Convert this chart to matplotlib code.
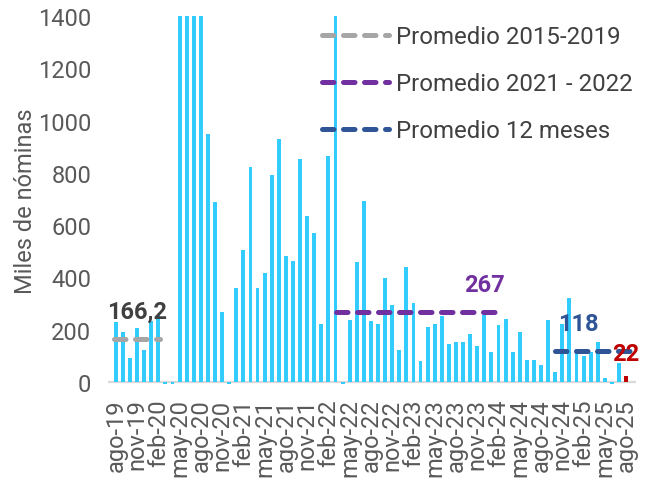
import matplotlib
matplotlib.use("Agg")
import matplotlib.pyplot as plt
from matplotlib.lines import Line2D

plt.rcParams["font.family"] = ["Roboto", "DejaVu Sans"]

# Monthly series, ago-19 .. ago-25 (thousands of payrolls)
month_abbr = ["ene", "feb", "mar", "abr", "may", "jun",
              "jul", "ago", "sep", "oct", "nov", "dic"]
start_year, start_month = 2019, 8
values = [
    231, 190, 91, 205, 124, 233, 256, -6, -6, 1650,
    1600, 1550, 1500, 949, 689, 267, -6, 361, 505, 821,
    361, 417, 792, 928, 483, 462, 853, 634, 571, 221,
    866, 1500, -6, 237, 458, 691, 232, 222, 397, 293,
    122, 440, 301, 80, 212, 222, 254, 144, 153, 153,
    182, 137, 258, 113, 217, 241, 113, 190, 84, 84,
    66, 237, 39, 220, 320, 125, 98, 113, 154, 14,
    -6, 74, 22,
]
months = []
for k in range(len(values)):
    m = (start_month - 1 + k) % 12
    y = start_year + (start_month - 1 + k) // 12
    months.append(f"{month_abbr[m]}-{y % 100:02d}")

# Reference averages: (label, value, first index, last index)
avg_labels = ["Promedio 2015-2019", "Promedio 2021 - 2022", "Promedio 12 meses"]
avg_values = [166.2, 267, 118]
avg_spans = [(-0.3, 6.3), (31.0, 53.5), (62.0, 72.5)]
avg_colors = ["#A6A6A6", "#7030A0", "#2F5597"]
avg_text_x = [3, 52, 65.2]
avg_text_colors = ["#404040", "#7030A0", "#2F5597"]

bar_color = "#33CCFF"
last_color = "#C00000"

fig = plt.figure(figsize=(6.5, 4.85), dpi=100)
ax = fig.add_axes([108 / 650, 1 - 385.6 / 485, 528 / 650, (385.6 - 17) / 485])

x = list(range(len(values)))
colors = [bar_color] * (len(values) - 1) + [last_color]
ax.bar(x, values, width=0.55, color=colors, zorder=2)

ax.set_xlim(-1.1, 73.4)
ax.set_ylim(-10, 1400)

for s in ax.spines.values():
    s.set_visible(False)
ax.axhline(0, color="#D9D9D9", lw=1.6, zorder=1)

ax.set_yticks(range(0, 1401, 200))
ax.set_xticks(x[::3])
ax.set_xticklabels(months[::3], rotation=90)
ax.tick_params(axis="both", length=0, labelsize=17, colors="#595959")
ax.tick_params(axis="y", pad=12)
ax.tick_params(axis="x", pad=10)
ax.set_ylabel("Miles de nóminas", fontsize=17, color="#595959", labelpad=1)

dash_kw = dict(lw=3.6, dashes=(2.3, 1.9), dash_capstyle="round", solid_capstyle="round")
handles = []
for lab, val, (x0, x1), col, tx, tcol in zip(avg_labels, avg_values, avg_spans,
                                             avg_colors, avg_text_x, avg_text_colors):
    ax.plot([x0, x1], [val, val], color=col, zorder=3, **dash_kw)
    txt = f"{val:g}".replace(".", ",")
    ax.annotate(txt, xy=(tx, val), xytext=(0, 15), textcoords="offset points",
                ha="center", va="baseline", fontsize=17, fontweight="bold",
                color=tcol, zorder=4)
    handles.append(Line2D([0], [0], color=col, label=lab, **dash_kw))

# Latest month value
ax.annotate(f"{values[-1]}", xy=(x[-1], values[-1]), xytext=(0, 12),
            textcoords="offset points", ha="center", va="baseline",
            fontsize=17, fontweight="bold", color=last_color, zorder=4,
            annotation_clip=False)

leg = ax.legend(handles=handles, loc="upper left",
                bbox_to_anchor=(322 / 650, 1 - 26 / 485),
                bbox_transform=fig.transFigure, frameon=False,
                fontsize=17.3, handlelength=2.8, handletextpad=0.3,
                labelspacing=1.0, borderpad=0, borderaxespad=0)
for t in leg.get_texts():
    t.set_color("#404040")

fig.savefig("out.png", dpi=100)
